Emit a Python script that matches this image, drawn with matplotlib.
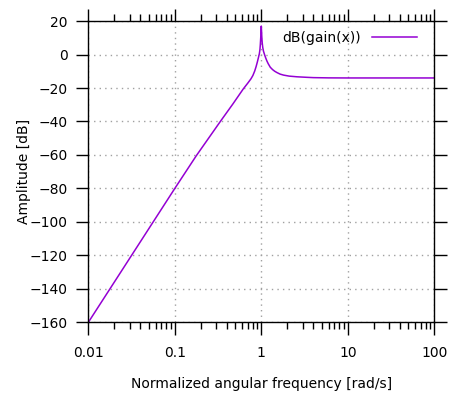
import numpy as np
import matplotlib
matplotlib.use("Agg")
import matplotlib.pyplot as plt
from matplotlib.ticker import LogLocator, FixedLocator, NullFormatter

# values
freq = [0.01, 0.1, 0.177, 0.336, 0.47, 0.62, 0.7, 0.76, 0.8, 0.84, 0.87,
        0.9, 0.925, 0.95, 0.965, 0.975, 0.985, 0.993, 1.0, 1.007, 1.015,
        1.025, 1.04, 1.06, 1.09, 1.12, 1.16, 1.2, 1.27, 1.35, 1.43, 1.52,
        1.65, 1.81, 2.1, 2.58, 3.3, 4.0, 6.0, 10.0, 100.0]
gain_db = [-160, -80, -60.5, -40, -29.5, -20.5, -17, -14.5, -12.5, -9.8, -7.3,
           -4.5, -2.0, 0.5, 3.0, 6.0, 10.0, 14.0, 17.0, 14.0, 10.0,
           7.0, 4.2, 2.0, 0.0, -1.8, -3.8, -5.4, -7.6, -9.0, -10.0, -10.8,
           -11.7, -12.3, -12.9, -13.3, -13.6, -13.8, -13.95, -14.0, -14.0]

xticks = [0.01, 0.1, 1, 10, 100]
xticklabels = ["0.01", "0.1", "1", "10", "100"]
yticks = [20, 0, -20, -40, -60, -80, -100, -120, -140, -160]

plt.rcParams['font.family'] = ['DejaVu Sans']
fig = plt.figure(figsize=(4.71, 3.97), dpi=100)
ax = fig.add_axes([0.1875, 0.188, 0.7345, 0.759])

ax.plot(freq, gain_db, color='#9400d3', lw=1.1, label='dB(gain(x))')
ax.set_xscale('log')
ax.set_xlim(0.01, 100)
ax.set_ylim(-160, 20)

ax.xaxis.set_major_locator(FixedLocator(xticks))
ax.set_xticklabels(xticklabels)
ax.xaxis.set_minor_locator(LogLocator(base=10, subs=np.arange(2, 10)))
ax.xaxis.set_minor_formatter(NullFormatter())
ax.set_yticks(yticks)

ax.tick_params(which='major', direction='out', length=9, width=1, labelsize=10,
               top=True, right=True, color='black')
ax.tick_params(which='minor', direction='out', length=5, width=1,
               top=True, right=False)
ax.tick_params(axis='x', pad=8)
ax.tick_params(axis='y', pad=6)
for s in ax.spines.values():
    s.set_linewidth(1.0)

ax.grid(True, which='major', color='#a0a0a0', ls=(0, (1, 3)), lw=1.0)

ax.set_xlabel('Normalized angular frequency [rad/s]', fontsize=10, labelpad=12)
ax.set_ylabel('Amplitude [dB]', fontsize=10)
ax.yaxis.set_label_coords(-0.165, 0.5)

leg = ax.legend(loc='upper right', bbox_to_anchor=(0.978, 1.0), frameon=False,
                markerfirst=False, fontsize=10, handlelength=3.2,
                handletextpad=0.8, borderaxespad=0.3)

fig.savefig('out.png', dpi=100)
